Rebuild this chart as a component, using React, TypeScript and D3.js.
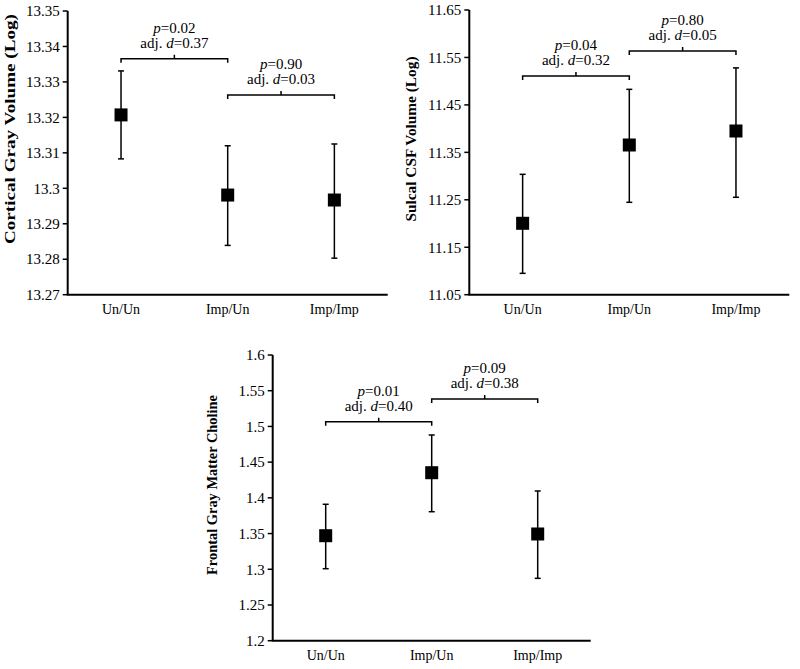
import React from "react";
import * as d3 from "d3";

const categories = ["Un/Un", "Imp/Un", "Imp/Imp"];

const cgvMean = [13.3207, 13.2981, 13.2967];
const cgvLow = [13.3083, 13.2839, 13.2803];
const cgvHigh = [13.3331, 13.312, 13.3125];
const cgvTicks = [13.27, 13.28, 13.29, 13.3, 13.31, 13.32, 13.33, 13.34, 13.35];
const cgvBracketY = [13.3365, 13.3263];
const cgvP = ["0.02", "0.90"];
const cgvD = ["0.37", "0.03"];

const csfMean = [11.2005, 11.3655, 11.395];
const csfLow = [11.095, 11.2447, 11.2553];
const csfHigh = [11.3037, 11.4828, 11.528];
const csfTicks = [11.05, 11.15, 11.25, 11.35, 11.45, 11.55, 11.65];
const csfBracketY = [11.511, 11.5636];
const csfP = ["0.04", "0.80"];
const csfD = ["0.32", "0.05"];

const choMean = [1.347, 1.4352, 1.3494];
const choLow = [1.3008, 1.3806, 1.2873];
const choHigh = [1.391, 1.488, 1.4096];
const choTicks = [1.2, 1.25, 1.3, 1.35, 1.4, 1.45, 1.5, 1.55, 1.6];
const choBracketY = [1.5067, 1.5384];
const choP = ["0.01", "0.09"];
const choD = ["0.40", "0.38"];

const FONT = "'Liberation Serif', 'Times New Roman', serif";

type PanelProps = {
  left: number;
  top: number;
  bottom: number;
  width: number;
  domain: [number, number];
  ticks: number[];
  mean: number[];
  low: number[];
  high: number[];
  bracketY: number[];
  pLabels: string[];
  dLabels: string[];
  yLabel: string;
  yLabelX: number;
  yLabelY: number;
  yLabelLen: number;
};

function Panel(p: PanelProps) {
  const x = d3
    .scaleBand<string>()
    .domain(categories)
    .range([p.left, p.left + p.width])
    .padding(0);
  const cx = (c: string) => (x(c) as number) + x.bandwidth() / 2;
  const y = d3.scaleLinear().domain(p.domain).range([p.bottom, p.top]);
  const fmt = (v: number) => String(+v.toFixed(4));
  const sq = 13;
  return (
    <g>
      {/* y axis */}
      <line x1={p.left} x2={p.left} y1={p.top} y2={p.bottom} stroke="#000" strokeWidth={2} />
      {p.ticks.map((t) => (
        <g key={t}>
          <line x1={p.left - 5} x2={p.left} y1={y(t)} y2={y(t)} stroke="#000" strokeWidth={1.5} />
          <text
            x={p.left - 8}
            y={y(t)}
            dy="0.35em"
            textAnchor="end"
            fontFamily={FONT}
            fontSize={15}
            fill="#000"
          >
            {fmt(t)}
          </text>
        </g>
      ))}
      {/* x axis */}
      <line x1={p.left - 1} x2={p.left + p.width} y1={p.bottom} y2={p.bottom} stroke="#000" strokeWidth={2} />
      {categories.map((c) => (
        <text
          key={c}
          x={cx(c)}
          y={p.bottom + 19}
          textAnchor="middle"
          fontFamily={FONT}
          fontSize={14}
          fill="#000"
        >
          {c}
        </text>
      ))}
      {/* error bars and markers */}
      {categories.map((c, i) => (
        <g key={c}>
          <line x1={cx(c)} x2={cx(c)} y1={y(p.low[i])} y2={y(p.high[i])} stroke="#000" strokeWidth={1.5} />
          <line x1={cx(c) - 3} x2={cx(c) + 3} y1={y(p.low[i])} y2={y(p.low[i])} stroke="#000" strokeWidth={1.5} />
          <line x1={cx(c) - 3} x2={cx(c) + 3} y1={y(p.high[i])} y2={y(p.high[i])} stroke="#000" strokeWidth={1.5} />
          <rect x={cx(c) - sq / 2} y={y(p.mean[i]) - sq / 2} width={sq} height={sq} fill="#000" />
        </g>
      ))}
      {/* brackets */}
      {p.bracketY.map((b, i) => {
        const x1 = cx(categories[i]);
        const x2 = cx(categories[i + 1]);
        const by = y(b);
        const mx = (x1 + x2) / 2;
        return (
          <g key={i}>
            <path
              d={`M${x1},${by + 4}V${by}H${x2}V${by + 4}M${mx},${by}V${by - 4}`}
              fill="none"
              stroke="#000"
              strokeWidth={1.5}
            />
            <text textAnchor="middle" fontFamily={FONT} fontSize={15} fill="#000">
              <tspan x={mx} y={by - 26}>
                <tspan fontStyle="italic">p</tspan>={p.pLabels[i]}
              </tspan>
              <tspan x={mx} y={by - 11}>
                adj. <tspan fontStyle="italic">d</tspan>={p.dLabels[i]}
              </tspan>
            </text>
          </g>
        );
      })}
      {/* y label */}
      <text
        transform={`translate(${p.yLabelX},${p.yLabelY}) rotate(-90)`}
        textAnchor="middle"
        dy="0.35em"
        fontFamily={FONT}
        fontWeight="bold"
        fontSize={15}
        textLength={p.yLabelLen}
        lengthAdjust="spacingAndGlyphs"
        fill="#000"
      >
        {p.yLabel}
      </text>
    </g>
  );
}

export default function App() {
  return (
    <svg
      width={800}
      height={669}
      style={{ position: "absolute", left: 0, top: 0, background: "#fff" }}
    >
      <rect width={800} height={669} fill="#fff" />
      <Panel
        left={67.7}
        top={11}
        bottom={294.7}
        width={320}
        domain={[13.27, 13.35]}
        ticks={cgvTicks}
        mean={cgvMean}
        low={cgvLow}
        high={cgvHigh}
        bracketY={cgvBracketY}
        pLabels={cgvP}
        dLabels={cgvD}
        yLabel="Cortical Gray Volume (Log)"
        yLabelX={10}
        yLabelY={129}
        yLabelLen={230}
      />
      <Panel
        left={469.3}
        top={10}
        bottom={294.7}
        width={320}
        domain={[11.05, 11.65]}
        ticks={csfTicks}
        mean={csfMean}
        low={csfLow}
        high={csfHigh}
        bracketY={csfBracketY}
        pLabels={csfP}
        dLabels={csfD}
        yLabel="Sulcal CSF Volume (Log)"
        yLabelX={411}
        yLabelY={139}
        yLabelLen={165}
      />
      <Panel
        left={272.7}
        top={355}
        bottom={640.7}
        width={318}
        domain={[1.2, 1.6]}
        ticks={choTicks}
        mean={choMean}
        low={choLow}
        high={choHigh}
        bracketY={choBracketY}
        pLabels={choP}
        dLabels={choD}
        yLabel="Frontal Gray Matter Choline"
        yLabelX={212}
        yLabelY={485}
        yLabelLen={180}
      />
    </svg>
  );
}
